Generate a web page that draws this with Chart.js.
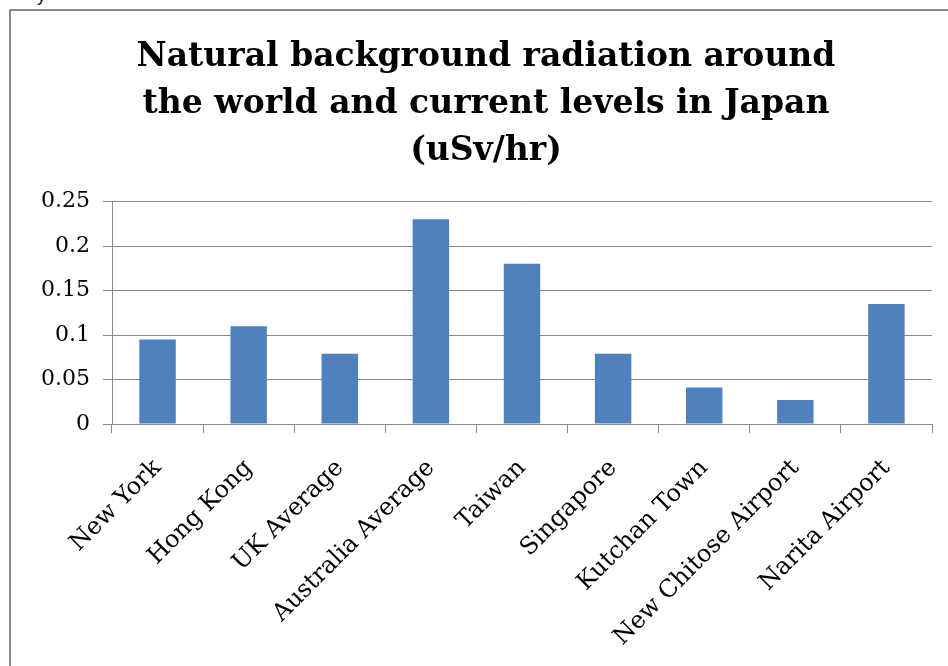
<!DOCTYPE html>
<html><head><meta charset="utf-8">
<script src="https://cdn.jsdelivr.net/npm/chart.js@4.4.1/dist/chart.umd.min.js"></script>
<style>
html,body{margin:0;padding:0;background:#fff;overflow:hidden;width:948px;height:666px;}
#frame{position:absolute;left:9px;top:9px;width:1200px;height:1200px;border-left:2px solid #888;border-top:2px solid #888;}
#cut{position:absolute;left:37px;top:-15px;font:18px "Liberation Sans",sans-serif;color:#000;}
#wrap{position:absolute;left:0;top:0;width:948px;height:666px;}
</style></head><body>
<div id="cut">y</div>
<div id="frame"></div>
<div id="wrap"><canvas id="c"></canvas></div>
<script>
const categories = ['New York','Hong Kong','UK Average','Australia Average','Taiwan','Singapore','Kutchan Town','New Chitose Airport','Narita Airport'];
const values = [0.095, 0.11, 0.079, 0.23, 0.18, 0.079, 0.041, 0.027, 0.135];
const yTickValues = [0, 0.05, 0.1, 0.15, 0.2, 0.25];
const titleLines = ['Natural background radiation around', 'the world and current levels in Japan', '(uSv/hr)'];

const gridColor = '#888888';
new Chart(document.getElementById('c'), {
  type: 'bar',
  data: {
    labels: categories,
    datasets: [{
      data: values,
      backgroundColor: '#4F81BD',
      borderWidth: 0,
      barPercentage: 0.4,
      categoryPercentage: 1.0
    }]
  },
  options: {
    responsive: true,
    maintainAspectRatio: false,
    animation: false,
    layout: { padding: { left: 40, right: 16, top: 0, bottom: 0 } },
    plugins: {
      legend: { display: false },
      tooltip: { enabled: false },
      title: {
        display: true,
        text: titleLines,
        color: '#000',
        font: { family: 'DejaVu Serif', size: 33, weight: 'bold', lineHeight: 1.42 },
        padding: { top: 34, bottom: 27 }
      }
    },
    scales: {
      x: {
        grid: { display: true, drawOnChartArea: false, drawTicks: true, tickLength: 9, color: gridColor, offset: true },
        border: { display: true, color: gridColor },
        ticks: { color: '#000', font: { family: 'DejaVu Serif', size: 24 }, minRotation: 45, maxRotation: 45, padding: 21, autoSkip: false },
        afterFit: s => { s.height = 242; }
      },
      y: {
        min: 0, max: 0.25,
        afterBuildTicks: s => { s.ticks = yTickValues.map(v => ({ value: v })); },
        grid: { color: gridColor, tickLength: 9, drawTicks: true },
        border: { display: true, color: gridColor },
        ticks: { color: '#000', font: { family: 'DejaVu Serif', size: 22 }, padding: 13,
          callback: v => String(+Number(v).toFixed(2)) },
        afterFit: s => { s.width = 72; }
      }
    }
  }
});
</script>
</body></html>
